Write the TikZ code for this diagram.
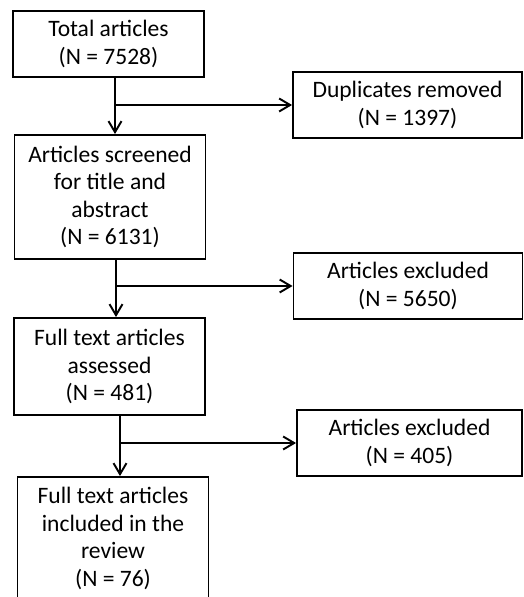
\documentclass[tikz,border=0pt]{standalone}
\usepackage{fontspec}
\setmainfont{Carlito}
\usetikzlibrary{arrows.meta}

\begin{document}
\begin{tikzpicture}[
    x=0.02cm, y=-0.02cm,
    every node/.style={draw, line width=1.1pt, align=center, inner sep=0pt,
        font=\fontsize{13.4}{15.7}\selectfont},
    mainbox/.style={minimum width=3.82cm},
    sidebox/.style={minimum width=4.58cm, minimum height=1.32cm},
    arr/.style={line width=1.1pt, -{Straight Barb[length=0.22cm, width=0.26cm]}}]

\useasboundingbox (0,0) rectangle (523,597);

\node[mainbox, minimum height=1.32cm] (total) at (108.5,44)
    {Total articles\\(N = 7528)};
\node[mainbox, minimum height=2.48cm] (screened) at (110,197)
    {Articles screened\\for title and\\abstract\\(N = 6131)};
\node[mainbox, minimum height=1.94cm] (assessed) at (109.5,366.5)
    {Full text articles\\assessed\\(N = 481)};
\node[mainbox, minimum height=2.46cm] (included) at (113,538.5)
    {Full text articles\\included in the\\review\\(N = 76)};

\node[sidebox] (dup) at (407.5,105) {Duplicates removed\\(N = 1397)};
\node[sidebox] (excl1) at (408,286) {Articles excluded\\(N = 5650)};
\node[sidebox, minimum width=4.5cm] (excl2) at (409.5,443) {Articles excluded\\(N = 405)};

\coordinate (b1) at (115,105);
\coordinate (b2) at (116,286);
\coordinate (b3) at (120,443);

\draw[arr] (total.south -| b1) -- (screened.north -| b1);
\draw[arr] (b1) -- (b1 -| dup.west);
\draw[arr] (screened.south -| b2) -- (assessed.north -| b2);
\draw[arr] (b2) -- (b2 -| excl1.west);
\draw[arr] (assessed.south -| b3) -- (included.north -| b3);
\draw[arr] (b3) -- (b3 -| excl2.west);

\end{tikzpicture}
\end{document}
